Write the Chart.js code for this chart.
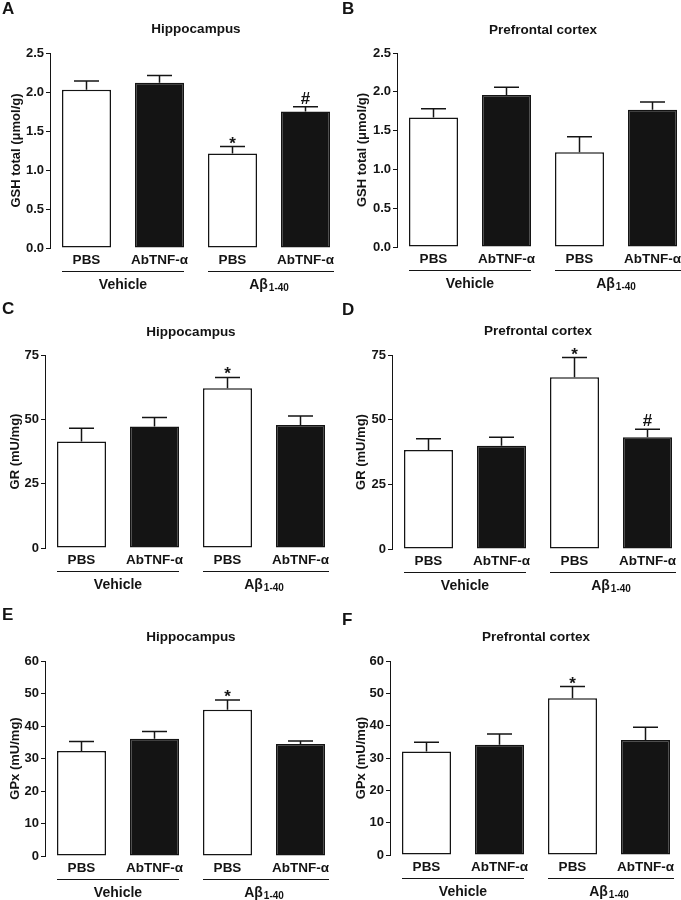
<!DOCTYPE html>
<html lang="en">
<head>
    <meta charset="UTF-8">
    <title>GSH, GR and GPx</title>
    <style>
        body {
            margin: 0;
            background: #fff;
            overflow: hidden;
        }

        #figure {
            position: relative;
            width: 681px;
            height: 900px;
            overflow: hidden;
        }

        #figure canvas {
            position: absolute;
        }
    </style>
</head>
<body>

    <div id="figure">
        <canvas id="panelA" width="352" height="300" style="left:0;top:0"></canvas>
        <canvas id="panelB" width="352" height="300" style="left:340px;top:0"></canvas>
        <canvas id="panelC" width="352" height="300" style="left:0;top:300px"></canvas>
        <canvas id="panelD" width="352" height="300" style="left:340px;top:300px"></canvas>
        <canvas id="panelE" width="352" height="300" style="left:0;top:600px"></canvas>
        <canvas id="panelF" width="352" height="300" style="left:340px;top:600px"></canvas>
    </div>

    <script src="https://cdn.jsdelivr.net/npm/chart.js"></script>

    <script>
        // 카테고리 / 그룹
        const categories = ['PBS', 'AbTNF-\u03b1', 'PBS', 'AbTNF-\u03b1'];
        const groupLabels = ['Vehicle', 'A\u03b2'];
        const groupSub = ['', '1-40'];
        const barColors = ['#ffffff', '#141414', '#ffffff', '#141414'];

        // A - GSH, hippocampus
        const gshHippoMean = [2.03, 2.12, 1.21, 1.75];
        const gshHippoErr = [0.11, 0.09, 0.09, 0.06];
        const gshHippoMarks = ['', '', '*', '#'];

        // B - GSH, prefrontal cortex
        const gshCortexMean = [1.67, 1.96, 1.22, 1.77];
        const gshCortexErr = [0.11, 0.10, 0.20, 0.10];
        const gshCortexMarks = ['', '', '', ''];

        // C - GR, hippocampus
        const grHippoMean = [41.4, 47.2, 62.1, 47.8];
        const grHippoErr = [5.1, 3.5, 4.2, 3.5];
        const grHippoMarks = ['', '', '*', ''];

        // D - GR, prefrontal cortex
        const grCortexMean = [38.3, 39.9, 66.4, 43.2];
        const grCortexErr = [4.3, 3.3, 7.6, 3.1];
        const grCortexMarks = ['', '', '*', '#'];

        // E - GPx, hippocampus
        const gpxHippoMean = [32.3, 36.1, 45.0, 34.5];
        const gpxHippoErr = [2.9, 2.2, 3.0, 0.9];
        const gpxHippoMarks = ['', '', '*', ''];

        // F - GPx, prefrontal cortex
        const gpxCortexMean = [32.0, 34.1, 48.5, 35.6];
        const gpxCortexErr = [2.9, 3.3, 3.6, 3.9];
        const gpxCortexMarks = ['', '', '*', ''];

        const FONT = "'Liberation Sans', Arial, sans-serif";
        const INK = '#141414';

        const panels = [
            { id: 'panelA', letter: 'A', letterY: 14, title: 'Hippocampus', titleY: 29, yTitle: 'GSH total (\u03bcmol/g)',
              mean: gshHippoMean, err: gshHippoErr, marks: gshHippoMarks, max: 2.5, step: 0.5, dec: 1,
              axisX: 50, top: 53, bottom: 248, yTitleX: 16 },
            { id: 'panelB', letter: 'B', letterY: 14, title: 'Prefrontal cortex', titleY: 30, yTitle: 'GSH total (\u03bcmol/g)',
              mean: gshCortexMean, err: gshCortexErr, marks: gshCortexMarks, max: 2.5, step: 0.5, dec: 1,
              axisX: 57, top: 53, bottom: 247, yTitleX: 22 },
            { id: 'panelC', letter: 'C', letterY: 14, title: 'Hippocampus', titleY: 32, yTitle: 'GR (mU/mg)',
              mean: grHippoMean, err: grHippoErr, marks: grHippoMarks, max: 75, step: 25, dec: 0,
              axisX: 45, top: 55, bottom: 248, yTitleX: 15 },
            { id: 'panelD', letter: 'D', letterY: 15, title: 'Prefrontal cortex', titleY: 31, yTitle: 'GR (mU/mg)',
              mean: grCortexMean, err: grCortexErr, marks: grCortexMarks, max: 75, step: 25, dec: 0,
              axisX: 52, top: 55, bottom: 249, yTitleX: 21 },
            { id: 'panelE', letter: 'E', letterY: 20, title: 'Hippocampus', titleY: 37, yTitle: 'GPx (mU/mg)',
              mean: gpxHippoMean, err: gpxHippoErr, marks: gpxHippoMarks, max: 60, step: 10, dec: 0,
              axisX: 45, top: 61, bottom: 256, yTitleX: 15 },
            { id: 'panelF', letter: 'F', letterY: 25, title: 'Prefrontal cortex', titleY: 37, yTitle: 'GPx (mU/mg)',
              mean: gpxCortexMean, err: gpxCortexErr, marks: gpxCortexMarks, max: 60, step: 10, dec: 0,
              axisX: 50, top: 61, bottom: 255, yTitleX: 21 }
        ];

        // 에러바, 유의성 표시, 그룹 라인 등을 그리는 플러그인
        const overlay = {
            id: 'overlay',
            afterDatasetsDraw(chart, args, opts) {
                const p = opts.panel;
                const ctx = chart.ctx;
                const y = chart.scales.y;
                const area = chart.chartArea;
                const bars = chart.getDatasetMeta(0).data;

                ctx.save();
                ctx.strokeStyle = INK;
                ctx.fillStyle = INK;

                // error bars (upper only)
                ctx.lineWidth = 1.5;
                bars.forEach((bar, i) => {
                    const yTop = y.getPixelForValue(p.mean[i] + p.err[i]);
                    ctx.beginPath();
                    ctx.moveTo(bar.x, bar.y);
                    ctx.lineTo(bar.x, yTop);
                    ctx.moveTo(bar.x - 12.5, yTop);
                    ctx.lineTo(bar.x + 12.5, yTop);
                    ctx.stroke();

                    if (p.marks[i]) {
                        ctx.font = 'bold 17px ' + FONT;
                        ctx.textAlign = 'center';
                        ctx.textBaseline = 'alphabetic';
                        const off = p.marks[i] === '*' ? 2 : -3;
                        ctx.fillText(p.marks[i], bar.x, yTop + off);
                    }
                });

                // group lines + labels
                const base = y.getPixelForValue(0);
                ctx.lineWidth = 1;
                for (let g = 0; g < 2; g++) {
                    const b1 = bars[g * 2], b2 = bars[g * 2 + 1];
                    const x1 = b1.x - b1.width / 2;
                    const x2 = b2.x + b2.width / 2 + (g === 1 ? 4 : 0);
                    ctx.beginPath();
                    ctx.moveTo(x1, base + 23.5);
                    ctx.lineTo(x2, base + 23.5);
                    ctx.stroke();

                    const cx = (b1.x - b1.width / 2 + b2.x + b2.width / 2) / 2;
                    ctx.textBaseline = 'middle';
                    ctx.font = 'bold 14px ' + FONT;
                    const w1 = ctx.measureText(groupLabels[g]).width;
                    ctx.font = 'bold 10px ' + FONT;
                    const w2 = groupSub[g] ? ctx.measureText(groupSub[g]).width + 1 : 0;
                    const sx = cx - (w1 + w2) / 2;
                    ctx.textAlign = 'left';
                    ctx.font = 'bold 14px ' + FONT;
                    ctx.fillText(groupLabels[g], sx, base + 37);
                    if (groupSub[g]) {
                        ctx.font = 'bold 10px ' + FONT;
                        ctx.fillText(groupSub[g], sx + w1 + 1, base + 40);
                    }
                }

                // panel title
                ctx.font = 'bold 13.5px ' + FONT;
                ctx.textAlign = 'center';
                ctx.textBaseline = 'middle';
                ctx.fillText(p.title, (area.left + area.right) / 2, p.titleY);

                // panel letter
                ctx.font = 'bold 17px ' + FONT;
                ctx.textAlign = 'left';
                ctx.textBaseline = 'alphabetic';
                ctx.fillText(p.letter, 2, p.letterY);

                ctx.restore();
            }
        };

        function drawPanel(p) {
            const canvas = document.getElementById(p.id);
            const W = canvas.width, H = canvas.height;

            new Chart(canvas.getContext('2d'), {
                type: 'bar',
                data: {
                    labels: categories,
                    datasets: [{
                        data: p.mean,
                        backgroundColor: barColors,
                        borderColor: INK,
                        borderWidth: 1.5,
                        borderSkipped: false,
                        categoryPercentage: 1,
                        barPercentage: 49 / 73
                    }]
                },
                options: {
                    responsive: false,
                    animation: false,
                    layout: {
                        padding: { left: 0, top: p.top, right: W - p.axisX - 292, bottom: 0 }
                    },
                    plugins: {
                        legend: { display: false },
                        tooltip: { enabled: false },
                        overlay: { panel: p }
                    },
                    scales: {
                        x: {
                            grid: { display: false, drawTicks: false },
                            border: { display: false },
                            ticks: {
                                color: INK,
                                padding: 4,
                                maxRotation: 0,
                                font: { family: FONT, size: 13.5, weight: 'bold' }
                            },
                            afterFit(scale) { scale.height = H - p.bottom; }
                        },
                        y: {
                            min: 0,
                            max: p.max,
                            grid: { display: true, drawOnChartArea: false, drawTicks: true, tickLength: 4, color: INK, lineWidth: 1 },
                            border: { display: true, color: INK, width: 1 },
                            ticks: {
                                stepSize: p.step,
                                color: INK,
                                padding: 2,
                                font: { family: FONT, size: 13, weight: 'bold' },
                                callback: v => Number(v).toFixed(p.dec)
                            },
                            title: {
                                display: true,
                                text: p.yTitle,
                                color: INK,
                                font: { family: FONT, size: 13, weight: 'bold' },
                                padding: { top: p.yTitleX - 7.8, bottom: 0 }
                            },
                            afterFit(scale) { scale.width = p.axisX; }
                        }
                    }
                },
                plugins: [overlay]
            });
        }

        panels.forEach(drawPanel);
    </script>
</body>
</html>
